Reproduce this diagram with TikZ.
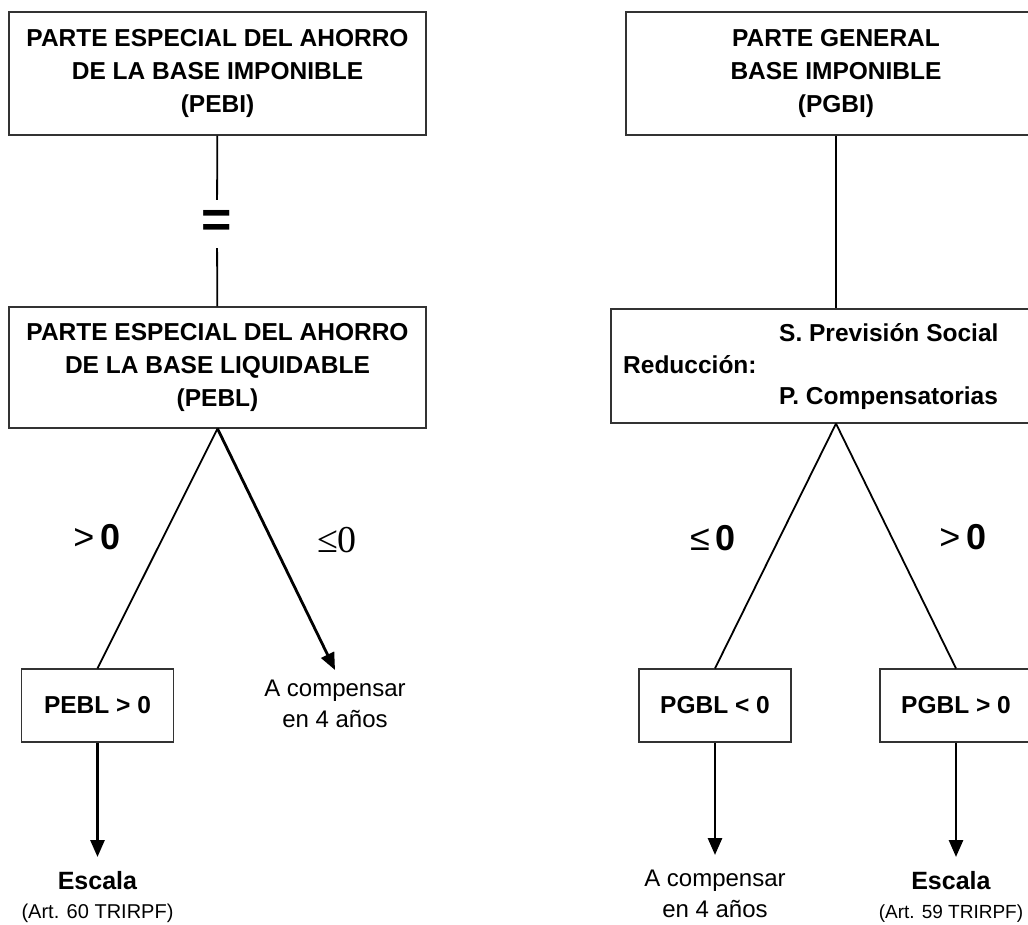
\documentclass[tikz,border=0pt]{standalone}
\usepackage{fontspec}
\setmainfont{Liberation Sans}
\newfontfamily\serifo{Liberation Serif}
\usetikzlibrary{positioning,arrows.meta}

\begin{document}
\begin{tikzpicture}[x=1pt,y=-1pt,
        caja/.style={draw=black!80, line width=1.2pt, inner sep=0pt, align=center,
                     font=\bfseries\fontsize{24.5}{33}\selectfont},
        rama/.style={line width=1.8pt},
        flecha/.style={line width=2.8pt, -{Triangle[length=17pt,width=14pt]}},
        texto/.style={font=\fontsize{24}{31}\selectfont, align=center, inner sep=0pt},
        signo/.style={font=\fontsize{36}{36}\selectfont, inner sep=0pt}]
    \useasboundingbox (0,0) rectangle (1028,924);
    \clip (0,0) rectangle (1028,924);

    \node[caja, minimum width=417pt, minimum height=123pt] (pebi) at (217.5,73.5)
        {PARTE ESPECIAL DEL AHORRO\\DE LA BASE IMPONIBLE\\(PEBI)};
    \node[inner sep=0pt, minimum height=48pt, font=\bfseries\fontsize{52}{52}\selectfont]
        (igual) at (217,224) {\raisebox{-8pt}{=}};
    \node[caja, minimum width=417pt, minimum height=121pt] (pebl) at (217.5,367.5)
        {PARTE ESPECIAL DEL AHORRO\\DE LA BASE LIQUIDABLE\\(PEBL)};
    \node[caja, minimum width=152pt, minimum height=73pt] (pebpos) at (97.5,705.5) {PEBL > 0};
    \node[texto, anchor=north, inner ysep=10pt] (comp1) at (335,670) {A compensar\\en 4 años};
    \node[texto, anchor=north, inner ysep=14pt] (esc1) at (97.5,857)
        {\textbf{\fontsize{25}{25}\selectfont Escala}\\[-2pt]{\fontsize{20}{24}\selectfont(Art. 60 TRIRPF)}};
    \node[signo] (may1) at (97,537) {>\,\textbf{0}};
    \node[signo] (men1) at (337,540) {\serifo\fontsize{38}{38}\selectfont ≤0};

    \draw[rama] (pebi) -- (igual) -- (pebl);
    \draw[rama] (pebl.south) -- (pebpos.north);
    \draw[flecha] (pebl.south) -- (comp1.north);
    \draw[flecha] (pebpos.south) -- (esc1.north);

    \node[caja, minimum width=420pt, minimum height=123pt] (pgbi) at (836,73.5)
        {PARTE GENERAL\\BASE IMPONIBLE\\(PGBI)};
    \node[caja, minimum width=450pt, minimum height=114pt] (reduc) at (836,366) {};
    \node[anchor=west, inner sep=0pt, font=\bfseries\fontsize{24.5}{24}\selectfont] (red) at (623,365) {Reducción:};
    \node[anchor=west, inner sep=0pt, font=\bfseries\fontsize{24.5}{24}\selectfont] (sps) at (779,333) {S. Previsión Social};
    \node[anchor=west, inner sep=0pt, font=\bfseries\fontsize{24.5}{24}\selectfont] (pco) at (779,398) {P. Compensatorias};
    \node[caja, minimum width=152pt, minimum height=73pt] (pgneg) at (715,705.5) {PGBL < 0};
    \node[caja, minimum width=152pt, minimum height=73pt] (pgpos) at (956,705.5) {PGBL > 0};
    \node[texto, anchor=north, inner ysep=15pt] (comp2) at (715,855) {A compensar\\en 4 años};
    \node[texto, anchor=north, inner ysep=14pt] (esc2) at (951,857)
        {\textbf{\fontsize{25}{25}\selectfont Escala}\\[-2pt]{\fontsize{19}{24}\selectfont(Art. 59 TRIRPF)}};
    \node[signo] (men2) at (713,538) {≤\,\textbf{0}};
    \node[signo] (may2) at (963,537) {>\,\textbf{0}};

    \draw[rama] (pgbi) -- (reduc);
    \draw[rama] (reduc.south) -- (pgneg.north);
    \draw[rama] (reduc.south) -- (pgpos.north);
    \draw[flecha] (pgneg.south) -- (comp2.north);
    \draw[flecha] (pgpos.south) -- (pgpos.south |- esc2.north);
\end{tikzpicture}
\end{document}
